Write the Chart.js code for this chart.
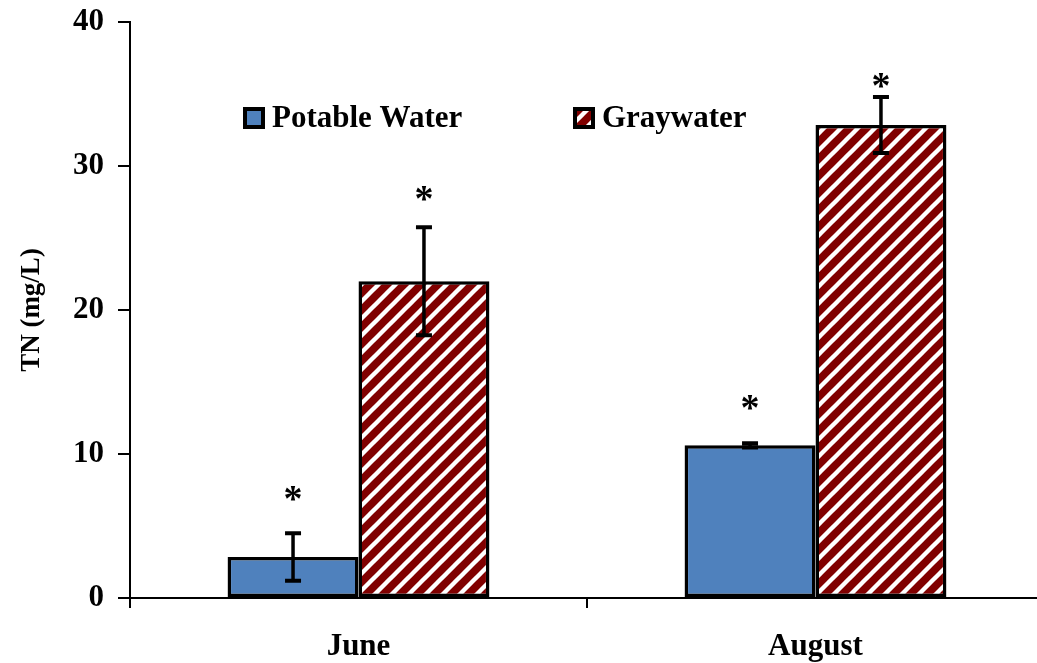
<!DOCTYPE html>
<html>
<head>
<meta charset="utf-8">
<script src="https://cdn.jsdelivr.net/npm/chart.js@4.4.1/dist/chart.umd.min.js"></script>
<style>
  html, body { margin: 0; padding: 0; background: #ffffff; overflow: hidden; }
  #wrap { width: 1060px; height: 663px; }
</style>
</head>
<body>
<div id="wrap"><canvas id="c" width="1060" height="663"></canvas></div>
<script>
// ---- data ----
const categories = ['June', 'August'];
const seriesNames = ['Potable Water', 'Graywater'];
const potable = [2.85, 10.6];
const potableErr = [1.65, 0.15];
const graywater = [22.0, 32.85];
const graywaterErr = [3.75, 1.95];
// asterisk marker heights (data units) above each bar
const potableStar = [7.3, 13.6];
const graywaterStar = [28.1, 36.0];
const yTicks = [0, 10, 20, 30, 40];

const SERIF = '"Liberation Serif", "Times New Roman", serif';
const BLUE = '#4F81BD';
const DARKRED = '#800000';

function makeHatch() {
  const p = 17;
  const t = document.createElement('canvas');
  t.width = p; t.height = p;
  const g = t.getContext('2d');
  g.fillStyle = DARKRED;
  g.fillRect(0, 0, p, p);
  g.strokeStyle = '#ffffff';
  g.lineWidth = 4.4;
  g.lineCap = 'square';
  for (const x0 of [-p, 0, p]) {
    g.beginPath();
    g.moveTo(x0, p);
    g.lineTo(x0 + p, 0);
    g.stroke();
  }
  return g.createPattern(t, 'repeat');
}
const hatch = makeHatch();

const extras = {
  id: 'extras',
  afterDatasetsDraw(chart) {
    const ctx = chart.ctx;
    const ys = chart.scales.y;
    const errs = [potableErr, graywaterErr];
    const stars = [potableStar, graywaterStar];
    ctx.save();
    chart.data.datasets.forEach((ds, di) => {
      const meta = chart.getDatasetMeta(di);
      meta.data.forEach((bar, i) => {
        const v = ds.data[i];
        const e = errs[di][i];
        const x = bar.x;
        const yT = ys.getPixelForValue(v + e);
        const yB = ys.getPixelForValue(v - e);
        ctx.strokeStyle = '#000';
        ctx.lineWidth = 3.5;
        ctx.lineCap = 'butt';
        ctx.beginPath();
        ctx.moveTo(x, yT); ctx.lineTo(x, yB);
        ctx.stroke();
        ctx.lineWidth = 4;
        ctx.beginPath();
        ctx.moveTo(x - 8, yT); ctx.lineTo(x + 8, yT);
        ctx.moveTo(x - 8, yB); ctx.lineTo(x + 8, yB);
        ctx.stroke();
        // asterisk
        const ySt = ys.getPixelForValue(stars[di][i]);
        ctx.fillStyle = '#000';
        ctx.font = 'bold 38px ' + SERIF;
        ctx.textAlign = 'center';
        ctx.textBaseline = 'alphabetic';
        ctx.fillText('*', x, ySt + 18);
      });
    });
    // legend
    const items = [
      { x: 243, fill: BLUE, text: seriesNames[0] },
      { x: 573, fill: hatch, text: seriesNames[1] }
    ];
    const cy = 118;
    items.forEach(it => {
      ctx.fillStyle = it.fill;
      ctx.fillRect(it.x, cy - 11, 22, 22);
      ctx.strokeStyle = '#000';
      ctx.lineWidth = 4;
      ctx.strokeRect(it.x + 2, cy - 9, 18, 18);
      ctx.fillStyle = '#000';
      ctx.font = 'bold 31px ' + SERIF;
      ctx.textAlign = 'left';
      ctx.textBaseline = 'middle';
      ctx.fillText(it.text, it.x + 29, cy + 1);
    });
    ctx.restore();
  }
};

new Chart(document.getElementById('c'), {
  type: 'bar',
  data: {
    labels: categories,
    datasets: [
      { label: seriesNames[0], data: potable, backgroundColor: BLUE, borderColor: '#000', borderWidth: 3.5, borderSkipped: false },
      { label: seriesNames[1], data: graywater, backgroundColor: hatch, borderColor: '#000', borderWidth: 3.5, borderSkipped: false }
    ]
  },
  options: {
    responsive: false,
    animation: false,
    devicePixelRatio: 1,
    layout: { padding: { left: 0, right: 16, top: 22, bottom: 0 } },
    plugins: { legend: { display: false }, tooltip: { enabled: false } },
    datasets: { bar: { categoryPercentage: 0.573, barPercentage: 1.0 } },
    scales: {
      x: {
        grid: { drawOnChartArea: false, drawTicks: true, tickLength: 10, color: '#000', lineWidth: 2, offset: true },
        border: { display: true, color: '#000', width: 2 },
        ticks: { color: '#000', font: { family: SERIF, size: 31, weight: 'bold' }, padding: 20 },
        afterFit(s) { s.height = 65; s.paddingLeft = 0; s.paddingRight = 0; }
      },
      y: {
        min: 0, max: 40,
        afterBuildTicks(s) { s.ticks = yTicks.map(v => ({ value: v })); },
        grid: { drawOnChartArea: false, drawTicks: true, tickLength: 12, color: '#000', lineWidth: 2 },
        border: { display: true, color: '#000', width: 2 },
        ticks: { color: '#000', font: { family: SERIF, size: 31, weight: 'bold' }, padding: 14 },
        title: { display: true, text: 'TN (mg/L)', color: '#000', font: { family: SERIF, size: 27, weight: 'bold' }, padding: { top: 16, bottom: 0 } },
        afterFit(s) { s.width = 130; s.paddingTop = 0; s.paddingBottom = 0; }
      }
    }
  },
  plugins: [extras]
});
</script>
</body>
</html>
